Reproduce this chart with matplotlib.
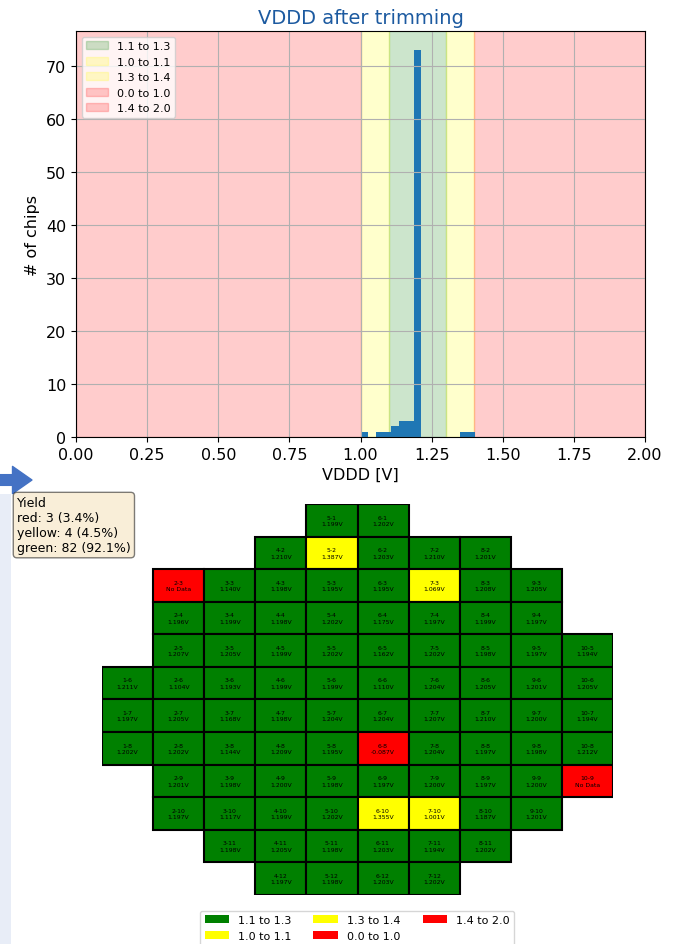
import numpy as np
import matplotlib.pyplot as plt
from matplotlib.patches import Rectangle, Patch

# histogramme (bins de ~0.0268 V a partir de 1.0 V)
hist_start = 1.0
hist_width = 0.0268
hist_counts = [1, 0, 1, 1, 2, 3, 3, 73, 0, 0, 0, 0, 0, 1, 1]

# faixas de classificacao (mesma ordem das legendas)
range_labels = ['1.1 to 1.3', '1.0 to 1.1', '1.3 to 1.4', '0.0 to 1.0', '1.4 to 2.0']
range_lo = [1.1, 1.0, 1.3, 0.0, 1.4]
range_hi = [1.3, 1.1, 1.4, 1.0, 2.0]
range_colors = ['green', 'yellow', 'yellow', 'red', 'red']

# mapa do wafer: "coluna-linha" e VDDD (nan = sem dado)
chip_ids = [
    '5-1', '6-1',
    '4-2', '5-2', '6-2', '7-2', '8-2',
    '2-3', '3-3', '4-3', '5-3', '6-3', '7-3', '8-3', '9-3',
    '2-4', '3-4', '4-4', '5-4', '6-4', '7-4', '8-4', '9-4',
    '2-5', '3-5', '4-5', '5-5', '6-5', '7-5', '8-5', '9-5', '10-5',
    '1-6', '2-6', '3-6', '4-6', '5-6', '6-6', '7-6', '8-6', '9-6', '10-6',
    '1-7', '2-7', '3-7', '4-7', '5-7', '6-7', '7-7', '8-7', '9-7', '10-7',
    '1-8', '2-8', '3-8', '4-8', '5-8', '6-8', '7-8', '8-8', '9-8', '10-8',
    '2-9', '3-9', '4-9', '5-9', '6-9', '7-9', '8-9', '9-9', '10-9',
    '2-10', '3-10', '4-10', '5-10', '6-10', '7-10', '8-10', '9-10',
    '3-11', '4-11', '5-11', '6-11', '7-11', '8-11',
    '4-12', '5-12', '6-12', '7-12',
]
chip_vddd = [
    1.199, 1.202,
    1.210, 1.387, 1.203, 1.210, 1.201,
    np.nan, 1.140, 1.198, 1.195, 1.195, 1.069, 1.208, 1.205,
    1.196, 1.199, 1.198, 1.202, 1.175, 1.197, 1.199, 1.197,
    1.207, 1.205, 1.199, 1.202, 1.162, 1.202, 1.198, 1.197, 1.194,
    1.211, 1.104, 1.193, 1.199, 1.199, 1.110, 1.204, 1.205, 1.201, 1.205,
    1.197, 1.205, 1.168, 1.198, 1.204, 1.204, 1.207, 1.210, 1.200, 1.194,
    1.202, 1.202, 1.144, 1.209, 1.195, -0.087, 1.204, 1.197, 1.198, 1.212,
    1.201, 1.198, 1.200, 1.198, 1.197, 1.200, 1.197, 1.200, np.nan,
    1.197, 1.117, 1.199, 1.202, 1.355, 1.001, 1.187, 1.201,
    1.198, 1.205, 1.198, 1.203, 1.194, 1.202,
    1.197, 1.198, 1.203, 1.202,
]


def cor_chip(v):
    if np.isnan(v):
        return 'red'
    for lo, hi, c in zip(range_lo, range_hi, range_colors):
        if lo <= v <= hi:
            return c
    return 'red'


fig = plt.figure(figsize=(6.8, 9.45), dpi=100)

# ---------------- histograma ----------------
ax = fig.add_axes([0.1118, 0.5365, 0.8367, 0.4296])
for lab, lo, hi, c in zip(range_labels, range_lo, range_hi, range_colors):
    ax.axvspan(lo, hi, color=c, alpha=0.2, label=lab)

edges = hist_start + hist_width * np.arange(len(hist_counts) + 1)
ax.hist(edges[:-1], bins=edges, weights=hist_counts, color='#1f77b4')
ax.set_xlim(0, 2)
ax.grid(True)
ax.set_title('VDDD after trimming', fontsize=14, color='#1c5aa0')
ax.set_xlabel('VDDD [V]', fontsize=11.5)
ax.set_ylabel('# of chips', fontsize=11.5)
ax.tick_params(labelsize=11.5)
ax.legend(loc='upper left', fontsize=8)

# ---------------- mapa do wafer ----------------
ax2 = fig.add_axes([0.15, 0.0519, 0.7515, 0.4137])
cores = []
for cid, v in zip(chip_ids, chip_vddd):
    col, row = [int(p) for p in cid.split('-')]
    c = cor_chip(v)
    cores.append(c)
    ax2.add_patch(Rectangle((col - 0.5, row - 0.5), 1, 1, facecolor=c,
                            edgecolor='black', linewidth=1.5))
    txt = 'No Data' if np.isnan(v) else '%.3fV' % v
    ax2.text(col, row, cid + '\n' + txt, ha='center', va='center',
             fontsize=4.4, linespacing=1.35)
ax2.set_xlim(0.5, 10.5)
ax2.set_ylim(12.5, 0.5)
ax2.axis('off')

n = len(cores)
n_red = cores.count('red')
n_yel = cores.count('yellow')
n_grn = cores.count('green')
yield_txt = 'Yield\nred: %d (%.1f%%)\nyellow: %d (%.1f%%)\ngreen: %d (%.1f%%)' % (
    n_red, 100 * n_red / n, n_yel, 100 * n_yel / n, n_grn, 100 * n_grn / n)
fig.text(0.025, 0.474, yield_txt, ha='left', va='top', fontsize=9,
         bbox=dict(boxstyle='round', facecolor='wheat', alpha=0.5))

handles = [Patch(facecolor=c) for c in range_colors]
fig.legend(handles, range_labels, loc='upper center', ncol=3, fontsize=8,
           handlelength=2.2, bbox_to_anchor=(0.525, 0.041))

# seta azul e faixa lateral do slide original
fig.add_artist(Rectangle((0, 0), 0.016, 0.476, transform=fig.transFigure,
                         facecolor='#e8edf7', edgecolor='none'))
fig.add_artist(plt.Annotation('', xy=(0.047, 0.491), xytext=(0.0, 0.491),
                              xycoords='figure fraction',
                              arrowprops=dict(arrowstyle='simple,head_width=1.4,head_length=1.0,tail_width=0.55',
                                              color='#4472c4', mutation_scale=14,
                                              shrinkA=0, shrinkB=0)))

fig.savefig('out.png')
